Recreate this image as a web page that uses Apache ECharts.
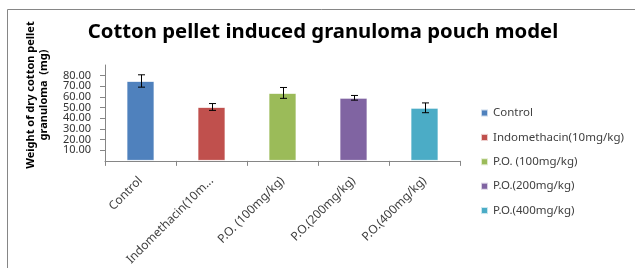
<!DOCTYPE html>
<html>
<head>
<meta charset="utf-8">
<script src="https://cdn.jsdelivr.net/npm/echarts@6/dist/echarts.min.js"></script>
<style>
  html, body { margin: 0; padding: 0; background: #fff; }
  #main { width: 635px; height: 268px; }
</style>
</head>
<body>
<div id="main"></div>
<script>
var categories = ['Control', 'Indomethacin(10mg/kg)', 'P.O. (100mg/kg)', 'P.O.(200mg/kg)', 'P.O.(400mg/kg)'];
var means = [75.0, 50.6, 63.8, 59.2, 49.8];   // mg
var errors = [5.8, 3.2, 5.1, 2.2, 4.6];       // +/- error
var colors = ['#4F81BD', '#C0504D', '#9BBB59', '#8064A2', '#4BACC6'];
var yTicks = [0, 10, 20, 30, 40, 50, 60, 70, 80, 90];
var yTitle = 'Weight of dry cotton pellet\ngranuloma  (mg)';

var myChart = echarts.init(document.getElementById('main'));

// one bar series per group so the legend shows every group
var series = [];
for (var i = 0; i < categories.length; i++) {
  var d = [];
  for (var j = 0; j < categories.length; j++) {
    d.push(j === i ? means[i] : '-');
  }
  series.push({
    name: categories[i],
    type: 'bar',
    stack: 'all',
    barWidth: 28,
    data: d,
    itemStyle: { color: colors[i], borderColor: 'rgba(255,255,255,0.7)', borderWidth: 1 }
  });
}

var errData = [];
for (var k = 0; k < categories.length; k++) {
  errData.push([k, means[k] - errors[k], means[k] + errors[k]]);
}
series.push({
  type: 'custom',
  name: 'error',
  data: errData,
  z: 10,
  renderItem: function (params, api) {
    var lo = api.coord([api.value(0), api.value(1)]);
    var hi = api.coord([api.value(0), api.value(2)]);
    var x = Math.round(lo[0]) + 0.5;
    var c = 3.5;
    var st = { stroke: '#000', lineWidth: 1 };
    return {
      type: 'group',
      children: [
        { type: 'line', shape: { x1: x, y1: hi[1], x2: x, y2: lo[1] }, style: st },
        { type: 'line', shape: { x1: x - c, y1: hi[1], x2: x + c, y2: hi[1] }, style: st },
        { type: 'line', shape: { x1: x - c, y1: lo[1], x2: x + c, y2: lo[1] }, style: st }
      ]
    };
  }
});

var option = {
  animation: false,
  textStyle: { fontFamily: 'Noto Sans' },
  title: {
    text: 'Cotton pellet induced granuloma pouch model',
    left: 318,
    textAlign: 'center',
    top: 17,
    textStyle: { fontSize: 20.3, fontWeight: 'bold', color: '#000', fontFamily: 'Noto Sans' }
  },
  graphic: [{
    type: 'rect',
    shape: { x: 7.5, y: 9.5, width: 700, height: 300 },
    style: { fill: 'none', stroke: '#868686', lineWidth: 1 },
    silent: true
  }, {
    // y axis title, placed by hand because it sits above the axis middle
    type: 'text',
    x: 37,
    y: 95,
    rotation: Math.PI / 2,
    silent: true,
    style: {
      text: yTitle,
      align: 'center',
      verticalAlign: 'middle',
      fontSize: 11,
      lineHeight: 13,
      fontWeight: 'bold',
      fontFamily: 'Noto Sans',
      fill: '#000'
    }
  }],
  legend: {
    orient: 'vertical',
    left: 480,
    top: 106,
    padding: 0,
    itemWidth: 7,
    itemHeight: 7,
    itemGap: 10.4,
    icon: 'rect',
    data: categories,
    textStyle: { fontSize: 11.5, color: '#404040', lineHeight: 14 }
  },
  grid: { left: 105, right: 175, top: 65, bottom: 98 },
  xAxis: {
    type: 'category',
    data: categories,
    axisLine: { lineStyle: { color: '#868686' } },
    axisTick: { show: true, length: 5, lineStyle: { color: '#868686' } },
    axisLabel: {
      rotate: 45,
      interval: 0,
      fontSize: 12,
      color: '#404040',
      margin: 18,
      formatter: function (v) { return v.length > 16 ? v.slice(0, 16) + '...' : v; }
    }
  },
  yAxis: {
    type: 'value',
    min: 0,
    max: yTicks[yTicks.length - 1],
    interval: 10,
    axisLine: { show: true, lineStyle: { color: '#868686' } },
    axisTick: { show: true, length: 5, lineStyle: { color: '#868686' } },
    splitLine: { show: false },
    axisLabel: {
      fontSize: 11,
      color: '#333',
      margin: 14,
      formatter: function (v) { return v.toFixed(2); }
    }
  },
  series: series
};

myChart.setOption(option);
</script>
</body>
</html>
